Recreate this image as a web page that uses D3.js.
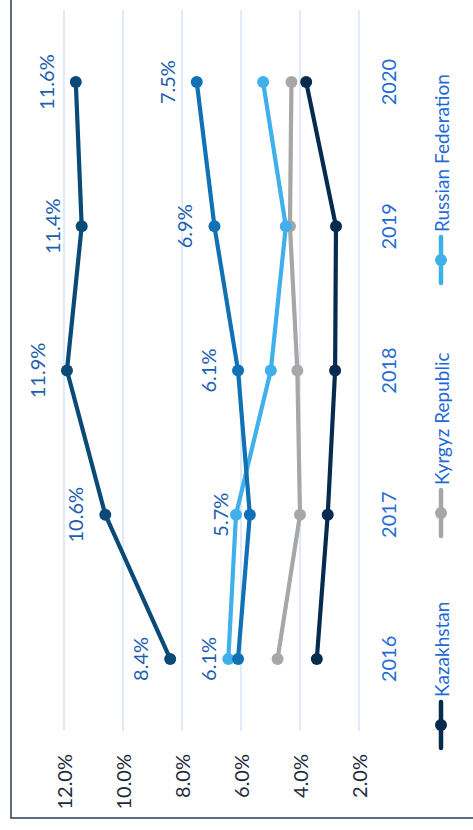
<!DOCTYPE html>
<html>
<head>
<meta charset="utf-8">
<script src="https://cdn.jsdelivr.net/npm/d3@7"></script>
<style>
html,body{margin:0;padding:0;background:#fff;}
svg{display:block;}
text{font-family:Lato,"Open Sans",sans-serif;}
</style>
</head>
<body>
<script>
const years = ["2016","2017","2018","2019","2020"];
const kazakhstan = [3.43, 3.06, 2.81, 2.78, 3.79];
const kyrgyz = [4.76, 4.00, 4.09, 4.34, 4.29];
const russia = [6.43, 6.17, 4.99, 4.48, 5.25];
const seriesD = [6.1, 5.7, 6.1, 6.9, 7.5];
const seriesE = [8.4, 10.6, 11.9, 11.4, 11.6];
const tickValues = [2, 4, 6, 8, 10, 12];
const legendNames = ["Kazakhstan", "Kyrgyz Republic", "Russian Federation"];

const W = 473, H = 830;
const svg = d3.select("body").append("svg").attr("width", W).attr("height", H);
// unrotated frame: width H (830), height W (473); rotated -90deg
const g = svg.append("g").attr("transform", `translate(0,${H}) rotate(-90)`);

const x = d3.scalePoint().domain(years).range([99, 820]).padding(0.5);
const y = d3.scaleLinear().domain([2, 12]).range([359, 64]);

// frame
g.append("rect").attr("x", 12).attr("y", 11).attr("width", 900).attr("height", 600)
  .attr("fill", "none").attr("stroke", "#2b3d57").attr("stroke-width", 1.5);

// gridlines
g.selectAll(".grid").data(tickValues).join("line")
  .attr("x1", 99).attr("x2", 820)
  .attr("y1", d => y(d)).attr("y2", d => y(d))
  .attr("stroke", "#c9defa").attr("stroke-width", 1.2);

// value tick labels
g.selectAll(".tick").data(tickValues).join("text")
  .attr("x", 76).attr("y", d => y(d))
  .attr("text-anchor", "end").attr("dominant-baseline", "central")
  .attr("font-size", 20).attr("fill", "#1d2b3c")
  .text(d => d.toFixed(1) + "%");

// year labels
g.selectAll(".year").data(years).join("text")
  .attr("x", d => x(d)).attr("y", 388)
  .attr("text-anchor", "middle").attr("dominant-baseline", "central")
  .attr("font-size", 20).attr("fill", "#1f6bd4")
  .text(d => d);

const series = [
  {vals: kazakhstan, color: "#062b4f", label: false},
  {vals: kyrgyz, color: "#a7a7a7", label: false},
  {vals: russia, color: "#3fb0ea", label: false},
  {vals: seriesD, color: "#1072b5", label: true},
  {vals: seriesE, color: "#0a4a77", label: true}
];

const line = d3.line().x((d, i) => x(years[i])).y(d => y(d));

series.forEach(s => {
  g.append("path").attr("d", line(s.vals)).attr("fill", "none")
    .attr("stroke", s.color).attr("stroke-width", 4.2).attr("stroke-linejoin", "round");
  g.selectAll(null).data(s.vals).join("circle")
    .attr("cx", (d, i) => x(years[i])).attr("cy", d => y(d)).attr("r", 6)
    .attr("fill", s.color);
});

series.filter(s => s.label).forEach(s => {
  g.selectAll(null).data(s.vals).join("text")
    .attr("x", (d, i) => x(years[i])).attr("y", d => y(d) - 30)
    .attr("text-anchor", "middle").attr("dominant-baseline", "central")
    .attr("font-size", 20).attr("fill", "#1d5eae")
    .text(d => d.toFixed(1) + "%");
});

// legend
const legendX = [105, 317, 570];
const legendColors = ["#062b4f", "#a7a7a7", "#3fb0ea"];
legendNames.forEach((name, i) => {
  const cx = legendX[i], cy = 441;
  g.append("line").attr("x1", cx - 23).attr("x2", cx + 23).attr("y1", cy).attr("y2", cy)
    .attr("stroke", legendColors[i]).attr("stroke-width", 4.5).attr("stroke-linecap", "round");
  g.append("circle").attr("cx", cx).attr("cy", cy).attr("r", 6).attr("fill", legendColors[i]);
  g.append("text").attr("x", cx + 28).attr("y", cy).attr("dominant-baseline", "central")
    .attr("font-size", 19).attr("fill", "#1f6bd4").text(name);
});
</script>
</body>
</html>
